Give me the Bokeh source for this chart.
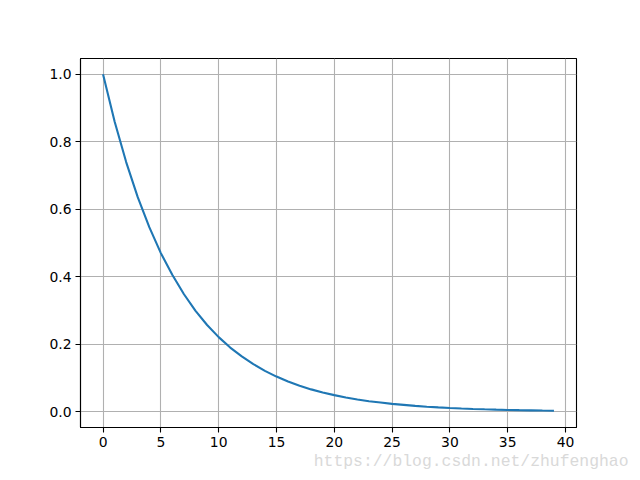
from bokeh.plotting import figure
from bokeh.models import FixedTicker, PrintfTickFormatter, Range1d, Title
from bokeh.embed import file_html
from bokeh.resources import INLINE

# Data
x_vals = list(range(40))
y_vals = [1.0, 0.86, 0.74, 0.636, 0.547, 0.470, 0.405, 0.348, 0.299, 0.257,
          0.221, 0.190, 0.164, 0.141, 0.121, 0.104, 0.0895, 0.077, 0.066, 0.057,
          0.049, 0.042, 0.036, 0.031, 0.027, 0.023, 0.020, 0.017, 0.0146, 0.0126,
          0.0108, 0.0093, 0.0080, 0.0069, 0.0059, 0.0051, 0.0044, 0.0038, 0.0032, 0.0028]
x_ticks = [0, 5, 10, 15, 20, 25, 30, 35, 40]
y_ticks = [0.0, 0.2, 0.4, 0.6, 0.8, 1.0]
watermark = "https://blog.csdn.net/zhufenghao"

W, H = 640, 480
p = figure(width=W, height=H, output_backend="svg", toolbar_location=None,
           x_range=Range1d(-1.95, 40.95), y_range=Range1d(-0.047, 1.047),
           min_border_left=80, min_border_right=64, min_border_top=58, min_border_bottom=53)
p.background_fill_color = "white"
p.border_fill_color = "white"
p.outline_line_color = "black"
p.outline_line_width = 1.1

for ax in (p.xaxis[0], p.yaxis[0]):
    ax.axis_line_color = "black"
    ax.axis_line_width = 1.1
    ax.major_tick_line_color = "black"
    ax.major_tick_line_width = 1.1
    ax.major_tick_out = 5
    ax.major_tick_in = 0
    ax.minor_tick_line_color = None
    ax.major_label_text_font = "DejaVu Sans"
    ax.major_label_text_font_size = "13.9px"
    ax.major_label_text_color = "black"
    ax.major_label_standoff = 4

p.xaxis[0].ticker = FixedTicker(ticks=x_ticks)
p.yaxis[0].ticker = FixedTicker(ticks=y_ticks)
p.yaxis[0].formatter = PrintfTickFormatter(format="%.1f")

p.xgrid[0].ticker = FixedTicker(ticks=x_ticks)
p.ygrid[0].ticker = FixedTicker(ticks=y_ticks)
for g in (p.xgrid[0], p.ygrid[0]):
    g.grid_line_color = "#b0b0b0"
    g.grid_line_width = 1.1
    g.grid_line_alpha = 1.0

p.line(x_vals, y_vals, line_color="#1f77b4", line_width=2.1)

wm = Title(text=watermark, align="right", offset=-52, standoff=0,
           text_font="Liberation Mono", text_font_size="16.4px", text_font_style="normal",
           text_color="#d9d9d9")
p.add_layout(wm, "below")

open("out.html", "w").write(file_html(p, INLINE))
